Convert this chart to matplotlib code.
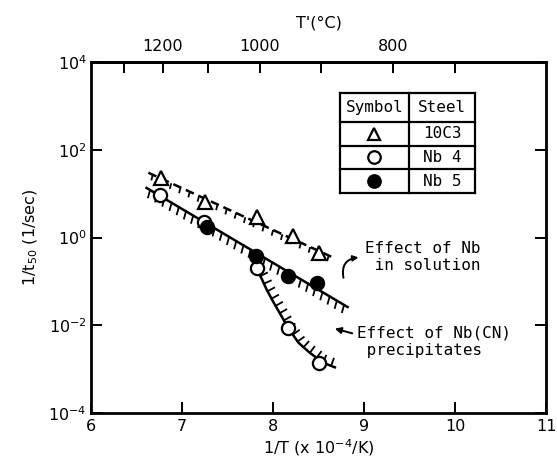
import numpy as np
import matplotlib
matplotlib.use("Agg")
import matplotlib.pyplot as plt
from matplotlib import patheffects

plt.rcParams["font.family"] = "DejaVu Sans"
plt.rcParams["mathtext.default"] = "regular"

# ── Data: 1/T (x 10^-4 /K) vs 1/t50 (1/sec) ─────────────────────────────
x_10c3 = [6.77, 7.25, 7.82, 8.22, 8.50]
y_10c3 = [22.4, 6.6, 3.0, 1.1, 0.44]

x_nb4 = [6.76, 7.24, 7.82, 8.17, 8.50]
y_nb4 = [9.3, 2.3, 0.20, 0.0085, 0.0014]

x_nb5 = [7.28, 7.81, 8.17, 8.48]
y_nb5 = [1.7, 0.38, 0.135, 0.091]

# guide lines drawn through the data
line_sol_dash_x = [6.63, 8.66]
line_sol_dash_y = [30.0, 0.35]
line_sol_x = [6.61, 8.82]
line_sol_y = [13.5, 0.026]
line_ppt_x = [7.84, 7.88, 7.93, 8.00, 8.08, 8.17, 8.28, 8.40, 8.55, 8.68]
line_ppt_y = [0.16, 0.11, 0.065, 0.035, 0.018, 0.0085, 0.0040, 0.0024, 0.0014, 0.0011]

# top axis temperatures (deg C)
temp_ticks = [1300, 1200, 1100, 1000, 900, 800, 727]
temp_labels = ["", "1200", "", "1000", "", "800", ""]

steels = ["10C3", "Nb 4", "Nb 5"]

fig = plt.figure(figsize=(5.57, 4.66), dpi=100)
ax = fig.add_axes([0.1634, 0.1137, 0.8169, 0.7532])
ax.set_yscale("log")
ax.set_xlim(6, 11)
ax.set_ylim(1e-4, 1e4)

# ── Lines with hatch ticks ──────────────────────────────────────────────
ax.plot(line_sol_dash_x, line_sol_dash_y, color="black", lw=1.8,
        ls=(0, (3.5, 2)), zorder=2,
        path_effects=[patheffects.withTickedStroke(spacing=7, angle=-80,
                                                   length=0.6, linewidth=1.3)])
ax.plot(line_sol_x, line_sol_y, color="black", lw=1.8, zorder=2,
        path_effects=[patheffects.withTickedStroke(spacing=6, angle=-75,
                                                   length=0.9, linewidth=1.3)])
ax.plot(line_ppt_x, line_ppt_y, color="black", lw=1.8, zorder=2,
        path_effects=[patheffects.withTickedStroke(spacing=6, angle=90,
                                                   length=0.9, linewidth=1.3)])

# ── Data points ─────────────────────────────────────────────────────────
mk = dict(ms=9.5, mew=1.6, ls="none", zorder=4)
ax.plot(x_10c3, y_10c3, marker="^", mfc="white", mec="black", **mk)
ax.plot(x_nb4, y_nb4, marker="o", mfc="white", mec="black", **mk)
ax.plot(x_nb5, y_nb5, marker="o", mfc="black", mec="black", **mk)

# ── Annotations ─────────────────────────────────────────────────────────
ax.text(9.01, 10 ** -0.44, "Effect of Nb\n in solution", family="DejaVu Sans Mono",
        fontsize=11.5, ha="left", va="center", linespacing=1.2)
ax.text(8.92, 10 ** -2.38, "Effect of Nb(CN)\n precipitates", family="DejaVu Sans Mono",
        fontsize=11.5, ha="left", va="center", linespacing=1.2)
ax.annotate("", xy=(8.65, 10 ** -2.06), xytext=(8.9, 10 ** -2.2),
            arrowprops=dict(arrowstyle="-|>", color="black", lw=1.4,
                            mutation_scale=9))
ax.annotate("", xy=(8.97, 10 ** -0.45), xytext=(8.78, 10 ** -0.98),
            arrowprops=dict(arrowstyle="-|>", color="black", lw=1.4,
                            mutation_scale=8,
                            connectionstyle="arc3,rad=-0.6"))

# ── Symbol / steel table ────────────────────────────────────────────────
tx0, tx1, tx2 = 0.547, 0.699, 0.844
row_edges = [0.912, 0.829, 0.761, 0.695, 0.627]
tkw = dict(transform=ax.transAxes, color="black", lw=1.6, zorder=5)
for yy in row_edges:
    ax.plot([tx0, tx2], [yy, yy], **tkw)
for xx in (tx0, tx1, tx2):
    ax.plot([xx, xx], [row_edges[-1], row_edges[0]], **tkw)
hy = 0.5 * (row_edges[0] + row_edges[1])
ax.text(0.5 * (tx0 + tx1), hy, "Symbol", transform=ax.transAxes,
        family="DejaVu Sans Mono", fontsize=11.5, ha="center", va="center")
ax.text(0.5 * (tx1 + tx2), hy, "Steel", transform=ax.transAxes,
        family="DejaVu Sans Mono", fontsize=11.5, ha="center", va="center")
sym_styles = [("^", "white"), ("o", "white"), ("o", "black")]
for i, (name, (m, fc)) in enumerate(zip(steels, sym_styles)):
    yy = 0.5 * (row_edges[i + 1] + row_edges[i + 2])
    ax.plot(0.5 * (tx0 + tx1), yy, marker=m, mfc=fc, mec="black", ms=9,
            mew=1.6, transform=ax.transAxes, zorder=6)
    ax.text(0.5 * (tx1 + tx2), yy, name, transform=ax.transAxes,
            family="DejaVu Sans Mono", fontsize=11.5, ha="center", va="center")

# ── Axes styling ────────────────────────────────────────────────────────
for side in ("left", "bottom", "right", "top"):
    ax.spines[side].set_linewidth(2.0)

ax.set_xticks([6, 7, 8, 9, 10, 11])
ax.set_yticks([1e-4, 1e-2, 1, 1e2, 1e4],
              labels=[r"$10^{-4}$", r"$10^{-2}$", r"$10^{0}$", r"$10^{2}$", r"$10^{4}$"])
ax.minorticks_off()
ax.tick_params(axis="both", direction="in", length=8, width=1.4,
               labelsize=11.5, pad=3, right=True)
ax.tick_params(axis="x", pad=4)

ax.set_xlabel(r"1/T (x 10$^{-4}$/K)", fontsize=11.5, labelpad=3)
ax.set_ylabel(r"1/t$_{50}$ (1/sec)", fontsize=11.5, labelpad=6)

# top temperature axis
secax = ax.secondary_xaxis("top", functions=(lambda x: 1e4 / np.asarray(x, float) - 273,
                                               lambda t: 1e4 / (np.asarray(t, float) + 273)))
secax.set_xticks(temp_ticks, labels=temp_labels)
secax.minorticks_off()
secax.tick_params(direction="in", length=8, width=1.4, labelsize=11.5, pad=6)
secax.spines["top"].set_linewidth(2.0)
secax.set_xlabel("T'(°C)", fontsize=11.5, labelpad=8)

fig.savefig("out.png", dpi=100)
